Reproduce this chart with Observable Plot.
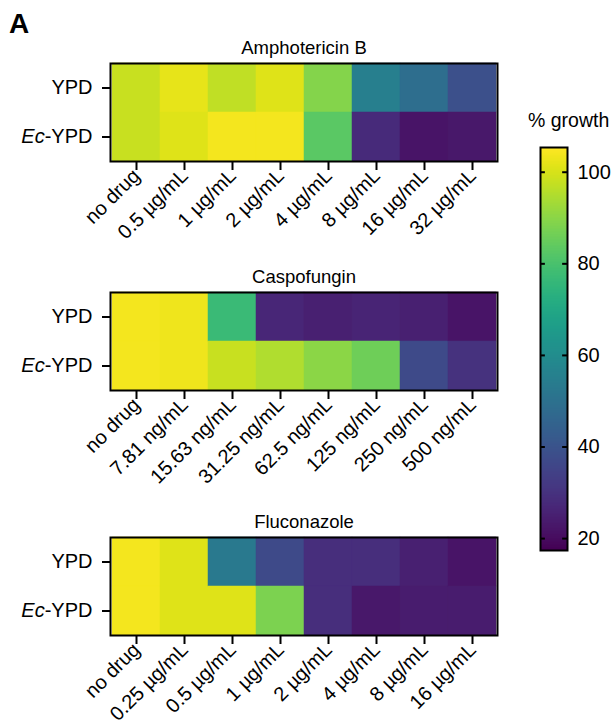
<!DOCTYPE html>
<html><head><meta charset="utf-8">
<script src="https://cdn.jsdelivr.net/npm/d3@7"></script>
<script src="https://cdn.jsdelivr.net/npm/@observablehq/plot@0.6"></script>
<style>
body{margin:0;background:#fff;font-family:"Liberation Sans",Arial,sans-serif;}
#root{position:relative;width:613px;height:724px;overflow:hidden;}
#root > svg, #root > .lab{position:absolute;}
.lab{color:#000;white-space:nowrap;line-height:1;}
</style></head><body><div id="root"></div>
<script>
const media = ["YPD", "Ec-YPD"];

const ampTitle = "Amphotericin B";
const ampLabels = ["no drug", "0.5 µg/mL", "1 µg/mL", "2 µg/mL", "4 µg/mL", "8 µg/mL", "16 µg/mL", "32 µg/mL"];
const ampYPD = [98, 102, 97, 101, 89, 55, 49, 39];
const ampEc  = [98, 101, 104, 104, 83, 28, 22, 23];

const casTitle = "Caspofungin";
const casLabels = ["no drug", "7.81 ng/mL", "15.63 ng/mL", "31.25 ng/mL", "62.5 ng/mL", "125 ng/mL", "250 ng/mL", "500 ng/mL"];
const casYPD = [104, 103, 77, 27, 25, 26, 25, 22];
const casEc  = [104, 103, 98, 95, 90, 86, 37, 30];

const fluTitle = "Fluconazole";
const fluLabels = ["no drug", "0.25 µg/mL", "0.5 µg/mL", "1 µg/mL", "2 µg/mL", "4 µg/mL", "8 µg/mL", "16 µg/mL"];
const fluYPD = [104, 101, 53, 37, 29, 29, 25, 22];
const fluEc  = [104, 101, 101, 88, 29, 23, 24, 24];

const colorDomain = [17.4, 105.4];
const legendTicks = [20, 40, 60, 80, 100];
const legendTitle = "% growth";
const panelLabel = "A";

const FONT = '"Liberation Sans", Arial, sans-serif';
const root = document.getElementById("root");

function heat(title, labels, ypd, ec, top) {
  const data = labels.flatMap((c, i) => [
    {conc: c, medium: "YPD", v: ypd[i]},
    {conc: c, medium: "Ec-YPD", v: ec[i]}
  ]);
  const p = Plot.plot({
    width: 520, height: 40 + 98 + 90,
    marginLeft: 110, marginRight: 23, marginTop: 40, marginBottom: 90,
    style: {fontFamily: FONT, fontSize: "20px", color: "#000", background: "transparent", overflow: "visible"},
    x: {domain: labels, padding: 0},
    y: {domain: media, padding: 0},
    color: {type: "linear", scheme: "viridis", domain: colorDomain},
    marks: [
      Plot.cell(data, {x: "conc", y: "medium", fill: "v", stroke: "v", strokeWidth: 0.5}),
      Plot.frame({stroke: "#000", strokeWidth: 2}),
      Plot.axisX({tickRotate: -45, tickSize: 9, tickPadding: 2, strokeWidth: 2, label: null}),
      Plot.axisY({tickSize: 8, tickPadding: 10, strokeWidth: 2, label: null}),
      Plot.text([title], {frameAnchor: "top", lineAnchor: "middle", dy: -15, fontSize: 18.5, fill: "#000"})
    ]
  });
  p.style.left = "0px";
  p.style.top = (top - 40) + "px";
  p.querySelectorAll("text").forEach(t => {
    if (t.textContent === "Ec-YPD") {
      t.textContent = "";
      const a = document.createElementNS("http://www.w3.org/2000/svg", "tspan");
      a.setAttribute("font-style", "italic"); a.textContent = "Ec";
      const b = document.createElementNS("http://www.w3.org/2000/svg", "tspan");
      b.textContent = "-YPD";
      t.appendChild(a); t.appendChild(b);
    }
  });
  root.appendChild(p);
}

heat(ampTitle, ampLabels, ampYPD, ampEc, 63);
heat(casTitle, casLabels, casYPD, casEc, 292);
heat(fluTitle, fluLabels, fluYPD, fluEc, 537);

// colour bar
const cb = Plot.plot({
  width: 113, height: 470,
  marginLeft: 40, marginRight: 46, marginTop: 47, marginBottom: 20,
  style: {fontFamily: FONT, fontSize: "20px", color: "#000", background: "transparent", overflow: "visible"},
  x: {domain: [0, 1], axis: null},
  y: {domain: colorDomain},
  color: {type: "linear", scheme: "viridis", domain: colorDomain},
  marks: [
    Plot.raster({x1: 0, x2: 1, y1: colorDomain[0], y2: colorDomain[1], width: 1, height: 400, fill: (x, y) => y, imageRendering: "auto"}),
    Plot.ruleY(legendTicks, {x1: 0, x2: 0.18, strokeWidth: 2}),
    Plot.ruleY(legendTicks, {x1: 0.82, x2: 1, strokeWidth: 2}),
    Plot.frame({stroke: "#000", strokeWidth: 2}),
    Plot.axisY({anchor: "right", ticks: legendTicks, tickSize: 0, tickPadding: 10, label: null})
  ]
});
cb.style.left = "500px"; cb.style.top = "100px";
root.appendChild(cb);

function lab(text, left, top, css) {
  const d = document.createElement("div");
  d.className = "lab"; d.textContent = text;
  d.style.left = left + "px"; d.style.top = top + "px";
  Object.assign(d.style, css);
  root.appendChild(d);
}
lab(panelLabel, 9, 9.5, {fontSize: "28px", fontWeight: "bold"});
lab(legendTitle, 528, 111, {fontSize: "19.5px"});
</script></body></html>
